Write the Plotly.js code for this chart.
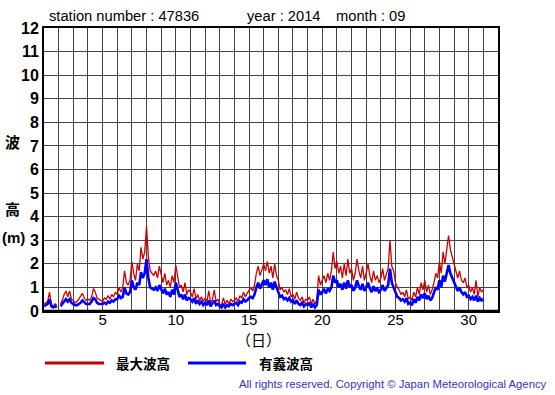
<!DOCTYPE html>
<html>
<head>
<meta charset="utf-8">
<script src="https://cdn.plot.ly/plotly-3.0.1.min.js"></script>
<style>html,body{margin:0;padding:0;background:#fff;}#chart{width:555px;height:395px;}</style>
</head>
<body>
<div id="chart"></div>
<script>
// 3-hourly values, September 2014, day 1 00h .. day 31 00h
const maxWave = [
  0.3,0.35,0.4,0.8,0.3,0.2,0.3,0.25,      // 1
  null,0.3,0.45,0.7,0.85,0.6,0.85,0.5,    // 2
  0.45,0.35,0.4,0.5,0.6,0.75,0.55,0.45,   // 3
  0.5,0.45,0.6,0.95,0.8,0.55,0.5,0.45,    // 4
  0.4,0.55,0.5,0.65,0.5,0.7,0.6,0.8,      // 5
  0.7,1.0,0.8,1.0,1.7,1.2,1.1,1.3,        // 6
  2.1,1.6,1.3,2.0,1.7,2.7,2.2,2.5,        // 7
  3.6,2.3,1.7,1.6,1.5,1.7,1.4,1.9,        // 8
  1.5,1.2,1.6,1.1,1.3,1.0,1.5,1.2,        // 9
  1.95,1.5,1.0,1.1,0.8,1.2,0.7,0.9,       // 10
  0.8,0.6,0.95,0.5,0.7,0.45,0.6,0.4,      // 11
  0.55,0.4,0.85,0.35,0.5,0.9,0.4,0.5,     // 12
  0.3,0.25,0.55,0.3,0.45,0.3,0.5,0.4,     // 13
  0.45,0.55,0.4,0.65,0.55,0.8,0.6,0.75,   // 14
  0.9,1.0,0.85,1.1,1.6,1.9,1.5,1.8,       // 15
  2.0,1.7,2.1,1.6,1.9,1.4,2.0,1.5,        // 16
  1.3,0.9,1.0,0.8,0.9,0.7,0.95,0.6,       // 17
  0.7,0.5,0.8,0.55,0.45,0.6,0.35,0.5,     // 18
  0.45,0.6,0.3,0.5,0.3,0.45,1.5,1.1,      // 19
  1.3,1.5,1.2,1.6,1.3,1.7,2.5,1.8,        // 20
  2.1,1.6,1.9,1.4,2.0,1.5,2.2,1.6,        // 21
  1.8,1.3,1.6,2.2,1.7,1.4,1.9,1.3,        // 22
  1.6,2.0,1.5,1.2,1.7,1.3,1.5,1.2,        // 23
  1.4,1.8,1.3,1.6,1.8,3.0,1.9,1.7,        // 24
  1.2,1.0,0.9,0.7,0.8,0.6,0.9,0.5,        // 25
  0.6,0.45,0.8,0.6,1.0,0.7,1.2,0.9,       // 26
  1.3,0.8,1.1,0.7,0.9,1.2,1.6,1.4,        // 27
  2.1,1.6,2.5,2.0,2.7,3.2,2.6,2.3,        // 28
  1.9,1.6,1.4,1.7,1.3,1.2,1.4,1.0,        // 29
  1.1,0.8,1.0,0.7,1.3,0.6,1.0,0.8,        // 30
  0.9                                     // 31
];
const sigWave = [
  0.2,0.25,0.3,0.5,0.2,0.15,0.2,0.15,     // 1
  null,0.2,0.3,0.45,0.5,0.4,0.5,0.35,     // 2
  0.3,0.25,0.25,0.3,0.35,0.45,0.35,0.3,   // 3
  0.3,0.3,0.4,0.55,0.5,0.35,0.3,0.3,      // 4
  0.3,0.35,0.3,0.4,0.35,0.45,0.4,0.5,     // 5
  0.5,0.65,0.55,0.6,1.0,0.75,0.7,0.8,     // 6
  1.3,1.0,0.9,1.2,1.1,1.65,1.4,1.6,       // 7
  2.2,1.4,1.0,0.95,0.9,1.0,0.85,1.1,      // 8
  0.9,0.75,0.95,0.7,0.8,0.6,0.9,0.7,      // 9
  1.2,0.9,0.6,0.7,0.5,0.7,0.45,0.55,      // 10
  0.5,0.4,0.55,0.3,0.45,0.3,0.4,0.25,     // 11
  0.35,0.25,0.45,0.2,0.3,0.45,0.25,0.3,   // 12
  0.2,0.15,0.3,0.15,0.25,0.2,0.3,0.25,    // 13
  0.3,0.35,0.25,0.4,0.35,0.5,0.4,0.45,    // 14
  0.55,0.6,0.55,0.7,1.0,1.2,0.95,1.1,     // 15
  1.3,1.1,1.35,1.0,1.2,0.9,1.25,1.0,      // 16
  0.8,0.6,0.65,0.5,0.55,0.45,0.55,0.4,    // 17
  0.45,0.3,0.45,0.3,0.25,0.35,0.2,0.3,    // 18
  0.25,0.35,0.15,0.3,0.15,0.25,0.9,0.7,   // 19
  0.8,0.9,0.75,0.95,0.85,1.0,1.5,1.2,     // 20
  1.3,1.0,1.15,0.9,1.2,0.95,1.3,1.0,      // 21
  1.1,0.85,1.0,1.3,1.05,0.9,1.15,0.85,    // 22
  1.0,1.2,0.95,0.8,1.05,0.85,0.95,0.8,    // 23
  0.9,1.1,0.85,1.0,1.1,1.8,1.2,1.0,       // 24
  0.75,0.6,0.55,0.45,0.5,0.4,0.55,0.3,    // 25
  0.35,0.25,0.5,0.35,0.6,0.45,0.7,0.55,   // 26
  0.75,0.5,0.65,0.45,0.55,0.75,1.0,0.9,   // 27
  1.3,1.0,1.5,1.25,1.6,1.95,1.6,1.4,      // 28
  1.2,1.0,0.85,1.0,0.8,0.7,0.8,0.6,       // 29
  0.65,0.5,0.6,0.45,0.65,0.4,0.55,0.45,   // 30
  0.5                                     // 31
];
const startDay = 1;
const stepsPerDay = 8;
const xTickVals = [1,2,3,4,5,6,7,8,9,10,11,12,13,14,15,16,17,18,19,20,21,22,23,24,25,26,27,28,29,30,31,32];
const xTickText = ['','','','','5','','','','','10','','','','','15','','','','','20','','','','','25','','','','','30','',''];
const yTickVals = [0,1,2,3,4,5,6,7,8,9,10,11,12];
const seriesNames = ['最大波高','有義波高'];

const times = maxWave.map((_, i) => startDay + i / stepsPerDay);

const traces = [
  {x: times, y: maxWave, type: 'scatter', mode: 'lines', name: seriesNames[0],
   line: {color: '#CC0000', width: 1.3}, connectgaps: false, showlegend: false},
  {x: times, y: sigWave, type: 'scatter', mode: 'lines', name: seriesNames[1],
   line: {color: '#0000FF', width: 2.6}, connectgaps: false, showlegend: false}
];

const fontFam = '"Liberation Sans", Arial, sans-serif';
const cjk = '"Noto Sans CJK JP", sans-serif';

const layout = {
  width: 555, height: 395,
  margin: {l: 44, r: 57, t: 28, b: 84, pad: 0},
  paper_bgcolor: '#fff', plot_bgcolor: '#fff',
  showlegend: false,
  xaxis: {
    range: [1, 32], tickmode: 'array', tickvals: xTickVals, ticktext: xTickText,
    showgrid: true, gridcolor: '#444', gridwidth: 1,
    showline: true, linecolor: '#000', linewidth: 2, mirror: true,
    ticks: '', zeroline: false, ticklabelstandoff: -6,
    tickfont: {family: fontFam, size: 15, color: '#000'}
  },
  yaxis: {
    range: [0, 12], tickmode: 'array', tickvals: yTickVals,
    showgrid: true, gridcolor: '#444', gridwidth: 1,
    showline: true, linecolor: '#000', linewidth: 2, mirror: true,
    ticks: '', zeroline: false,
    tickfont: {family: fontFam, size: 16, color: '#000', weight: 'bold'}
  },
  shapes: [
    {type: 'line', xref: 'paper', yref: 'paper', x0: -0.002, x1: 1.002, y0: 0, y1: 0,
     line: {color: '#000', width: 2.5}},
    {type: 'line', xref: 'paper', yref: 'paper',
     x0: (45 - 44) / 454, x1: (104 - 44) / 454, y0: (311 - 363) / 283, y1: (311 - 363) / 283,
     line: {color: '#CC0000', width: 3}},
    {type: 'line', xref: 'paper', yref: 'paper',
     x0: (188 - 44) / 454, x1: (246 - 44) / 454, y0: (311 - 363) / 283, y1: (311 - 363) / 283,
     line: {color: '#0000FF', width: 3}}
  ],
  annotations: [
    {text: 'station number : 47836', xref: 'paper', yref: 'paper', x: (47 - 44) / 454, y: (311 - 16) / 283,
     xanchor: 'left', yanchor: 'middle', showarrow: false, font: {family: fontFam, size: 14.7, color: '#000'}},
    {text: 'year : 2014', xref: 'paper', yref: 'paper', x: (245 - 44) / 454, y: (311 - 16) / 283,
     xanchor: 'left', yanchor: 'middle', showarrow: false, font: {family: fontFam, size: 14.7, color: '#000'}},
    {text: 'month : 09', xref: 'paper', yref: 'paper', x: (334 - 44) / 454, y: (311 - 16) / 283,
     xanchor: 'left', yanchor: 'middle', showarrow: false, font: {family: fontFam, size: 14.7, color: '#000'}},
    {text: '波', xref: 'paper', yref: 'paper', x: (12 - 44) / 454, y: (311 - 141) / 283,
     xanchor: 'center', yanchor: 'middle', showarrow: false, font: {family: cjk, size: 15, color: '#000', weight: 'bold'}},
    {text: '高', xref: 'paper', yref: 'paper', x: (12 - 44) / 454, y: (311 - 208) / 283,
     xanchor: 'center', yanchor: 'middle', showarrow: false, font: {family: cjk, size: 15, color: '#000', weight: 'bold'}},
    {text: '(m)', xref: 'paper', yref: 'paper', x: (13 - 44) / 454, y: (311 - 238) / 283,
     xanchor: 'center', yanchor: 'middle', showarrow: false, font: {family: fontFam, size: 15, color: '#000', weight: 'bold'}},
    {text: '（日）', xref: 'paper', yref: 'paper', x: (258 - 44) / 454, y: (311 - 339) / 283,
     xanchor: 'center', yanchor: 'middle', showarrow: false, font: {family: cjk, size: 15, color: '#000'}},
    {text: seriesNames[0], xref: 'paper', yref: 'paper', x: (114 - 44) / 454, y: (311 - 363) / 283,
     xanchor: 'left', yanchor: 'middle', showarrow: false, font: {family: cjk, size: 13.5, color: '#000', weight: 'bold'}},
    {text: seriesNames[1], xref: 'paper', yref: 'paper', x: (257 - 44) / 454, y: (311 - 363) / 283,
     xanchor: 'left', yanchor: 'middle', showarrow: false, font: {family: cjk, size: 13.5, color: '#000', weight: 'bold'}},
    {text: 'All rights reserved. Copyright © Japan Meteorological Agency', xref: 'paper', yref: 'paper',
     x: (549 - 44) / 454, y: (311 - 384) / 283, xanchor: 'right', yanchor: 'middle', showarrow: false,
     font: {family: fontFam, size: 11.3, color: '#3333CC'}}
  ]
};

Plotly.newPlot('chart', traces, layout, {displayModeBar: false, staticPlot: true});
</script>
</body>
</html>
